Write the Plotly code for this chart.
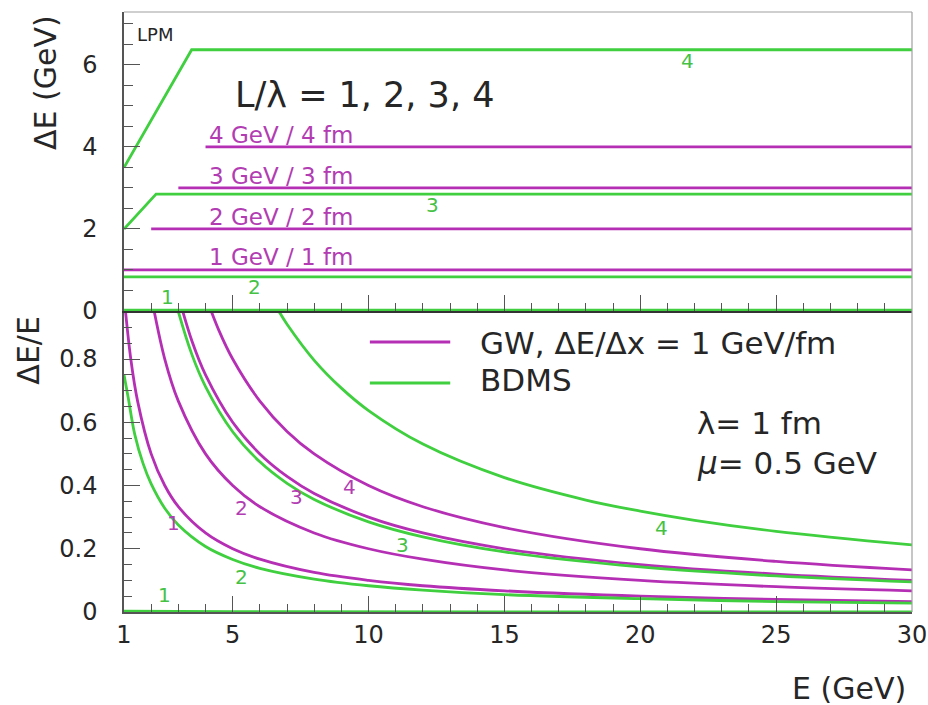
import plotly.graph_objects as go

# ---------------- data ----------------
E_MIN, E_MAX = 1, 30
x_tick_vals = [1, 5, 10, 15, 20, 25, 30]
top_y_ticks = [0, 2, 4, 6]
bot_y_ticks = [0, 0.2, 0.4, 0.6, 0.8]

# Top panel: Delta E (GeV) vs E
gw_labels = ["1 GeV / 1 fm", "2 GeV / 2 fm", "3 GeV / 3 fm", "4 GeV / 4 fm"]
gw1_top_E = [1, 30];   gw1_top_dE = [1, 1]
gw2_top_E = [2, 30];   gw2_top_dE = [2, 2]
gw3_top_E = [3, 30];   gw3_top_dE = [3, 3]
gw4_top_E = [4, 30];   gw4_top_dE = [4, 4]

bdms1_top_E = [1, 30];                       bdms1_top_dE = [0.02, 0.02]
bdms2_top_E = [1, 30];                       bdms2_top_dE = [0.83, 0.83]
bdms3_top_E = [1, 2.18, 30];                 bdms3_top_dE = [2.0, 2.85, 2.85]
bdms4_top_E = [1, 2.2, 3.49, 30]
bdms4_top_dE = [3.5, 4.9, 6.37, 6.37]

# Bottom panel: Delta E / E vs E
gw1_bot_E = [1, 1.25, 1.5, 2, 2.5, 3, 4, 5, 6, 8, 10, 12, 15, 20, 25, 30]
gw1_bot_r = [1.0, 0.8, 0.667, 0.5, 0.4, 0.333, 0.25, 0.2, 0.167, 0.125, 0.1, 0.083, 0.067, 0.05, 0.04, 0.033]
gw2_bot_E = [2, 2.5, 3, 4, 5, 6, 8, 10, 12, 15, 20, 25, 30]
gw2_bot_r = [1.0, 0.8, 0.667, 0.5, 0.4, 0.333, 0.25, 0.2, 0.167, 0.133, 0.1, 0.08, 0.067]
gw3_bot_E = [3, 3.5, 4, 5, 6, 7, 8, 10, 12, 15, 20, 25, 30]
gw3_bot_r = [1.0, 0.857, 0.75, 0.6, 0.5, 0.429, 0.375, 0.3, 0.25, 0.2, 0.15, 0.12, 0.1]
gw4_bot_E = [4, 4.5, 5, 6, 7, 8, 10, 12, 15, 20, 25, 30]
gw4_bot_r = [1.0, 0.889, 0.8, 0.667, 0.571, 0.5, 0.4, 0.333, 0.267, 0.2, 0.16, 0.133]

bdms1_bot_E = [1, 5, 30];  bdms1_bot_r = [0.003, 0.001, 0.0]
bdms2_bot_E = [1, 1.15, 1.4, 1.7, 2, 2.5, 3, 4, 5, 6, 8, 10, 12, 15, 20, 25, 30]
bdms2_bot_r = [0.75, 0.68, 0.56, 0.47, 0.405, 0.328, 0.275, 0.207, 0.166, 0.138, 0.104, 0.083, 0.069, 0.055, 0.042, 0.033, 0.028]
bdms3_bot_E = [2.9, 3, 3.5, 4, 5, 6, 7, 8, 10, 12, 15, 20, 25, 30]
bdms3_bot_r = [0.983, 0.95, 0.814, 0.713, 0.57, 0.475, 0.407, 0.356, 0.285, 0.2375, 0.19, 0.1425, 0.114, 0.095]
bdms4_bot_E = [6.5, 6.7, 7, 8, 9, 10, 12, 15, 18, 20, 22, 25, 30]
bdms4_bot_r = [0.98, 0.951, 0.91, 0.796, 0.708, 0.637, 0.531, 0.425, 0.354, 0.319, 0.29, 0.255, 0.212]

# ---------------- styling ----------------
MAG = "#b52fb5"
GRN = "#3fcf3f"
MAG_TXT = "#b23cb2"
GRN_TXT = "#45c245"
TXT = "#262626"
AX = "#555555"
FONT = "DejaVu Sans"
LW = 2.8

fig = go.Figure()

def add_line(x, y, color, xa, ya, spline=False):
    fig.add_trace(go.Scatter(
        x=x, y=y, mode="lines", xaxis=xa, yaxis=ya, showlegend=False,
        hoverinfo="skip",
        line=dict(color=color, width=LW, shape="spline" if spline else "linear",
                  smoothing=1.0)))

# top panel
for x, y in [(gw1_top_E, gw1_top_dE), (gw2_top_E, gw2_top_dE),
             (gw3_top_E, gw3_top_dE), (gw4_top_E, gw4_top_dE)]:
    add_line(x, y, MAG, "x2", "y2")
for x, y in [(bdms1_top_E, bdms1_top_dE), (bdms2_top_E, bdms2_top_dE),
             (bdms3_top_E, bdms3_top_dE), (bdms4_top_E, bdms4_top_dE)]:
    add_line(x, y, GRN, "x2", "y2")

# bottom panel
for x, y in [(gw1_bot_E, gw1_bot_r), (gw2_bot_E, gw2_bot_r),
             (gw3_bot_E, gw3_bot_r), (gw4_bot_E, gw4_bot_r)]:
    add_line(x, y, MAG, "x", "y", spline=True)
for x, y in [(bdms1_bot_E, bdms1_bot_r), (bdms2_bot_E, bdms2_bot_r),
             (bdms3_bot_E, bdms3_bot_r), (bdms4_bot_E, bdms4_bot_r)]:
    add_line(x, y, GRN, "x", "y", spline=True)

SPLIT = 0.5017

common_x = dict(range=[E_MIN, E_MAX], showgrid=False, zeroline=False,
                showline=True, linecolor=AX, linewidth=1.5, automargin=False,
                ticks="inside", ticklen=16, tickcolor=AX, tickwidth=1,
                tickmode="array", tickvals=x_tick_vals,
                minor=dict(tickmode="array", tickvals=list(range(1, 31)),
                           ticks="inside", ticklen=8, tickcolor=AX))

fig.update_layout(
    width=928, height=705,
    margin=dict(l=124, r=16, t=12, b=93, autoexpand=False),
    paper_bgcolor="white", plot_bgcolor="white",
    font=dict(family=FONT, color=TXT, size=24),
    xaxis=dict(**common_x, anchor="y", domain=[0, 1],
               tickfont=dict(size=24, family=FONT, color=TXT),
               ticklabelstandoff=0),
    yaxis=dict(domain=[0, SPLIT], range=[0, 0.952], showgrid=False,
               zeroline=False, showline=True, linecolor=AX, linewidth=1.5,
               automargin=False,
               ticks="inside", ticklen=16, tickcolor=AX,
               tickmode="array", tickvals=bot_y_ticks,
               ticktext=["0", "0.2", "0.4", "0.6", "0.8"],
               minor=dict(dtick=0.05, tick0=0, ticks="inside", ticklen=8,
                          tickcolor=AX),
               tickfont=dict(size=24, family=FONT, color=TXT),
               ticklabelstandoff=20),
    xaxis2=dict(**common_x, anchor="y2", domain=[0, 1], showticklabels=False),
    yaxis2=dict(domain=[SPLIT, 1], range=[0, 7.29], showgrid=False,
                zeroline=False, showline=True, linecolor=AX, linewidth=1.5,
                automargin=False,
                ticks="inside", ticklen=16, tickcolor=AX,
                tickmode="array", tickvals=top_y_ticks,
                minor=dict(dtick=0.5, tick0=0, ticks="inside", ticklen=9,
                           tickcolor=AX),
                tickfont=dict(size=24, family=FONT, color=TXT),
                ticklabelstandoff=20),
)
fig.update_xaxes(selector=dict(anchor="y2"), linecolor="#333333", linewidth=2.2)

# frame (top edge and right edge, light gray)
fig.add_shape(type="line", xref="paper", yref="paper", x0=0, x1=1, y0=1, y1=1,
              line=dict(color="#a0a0a0", width=1.2))
fig.add_shape(type="line", xref="paper", yref="paper", x0=1, x1=1, y0=0, y1=1,
              line=dict(color="#a0a0a0", width=1.2))

# legend samples
fig.add_shape(type="line", xref="paper", yref="paper", x0=0.312, x1=0.414,
              y0=0.45, y1=0.45, line=dict(color=MAG, width=LW))
fig.add_shape(type="line", xref="paper", yref="paper", x0=0.312, x1=0.414,
              y0=0.3817, y1=0.3817, line=dict(color=GRN, width=LW))

ann = []
def text(x, y, s, size, color=TXT, xanchor="left", yanchor="middle", angle=0,
         xref="paper", yref="paper"):
    ann.append(dict(x=x, y=y, xref=xref, yref=yref, text=s, showarrow=False,
                    xanchor=xanchor, yanchor=yanchor, textangle=angle,
                    font=dict(family=FONT, size=size, color=color)))

# axis titles
text(-0.1003, 0.8833, "ΔE (GeV)", 30, xanchor="center", angle=-90)
text(-0.121, 0.4367, "ΔE/E", 30, xanchor="center", angle=-90)
text(0.995, -0.1267, "E (GeV)", 30, xanchor="right")

# top panel text
text(0.014, 0.9617, "LPM", 18)
text(0.138, 0.8617, "L/λ = 1, 2, 3, 4", 35)
for lbl, yp in zip(gw_labels, [0.5917, 0.6583, 0.7267, 0.795]):
    text(0.1053, yp, lbl, 23, color=MAG_TXT)
# curve numbers, top panel
text(0.7157, 0.9183, "4", 20, color=GRN_TXT, xanchor="center")
text(0.3909, 0.6783, "3", 20, color=GRN_TXT, xanchor="center")
text(0.1662, 0.5417, "2", 20, color=GRN_TXT, xanchor="center")
text(0.0546, 0.525, "1", 20, color=GRN_TXT, xanchor="center")

# legend text
text(0.449, 0.4483, "GW, ΔE/Δx = 1 GeV/fm", 31)
text(0.449, 0.3867, "BDMS", 31)
text(0.7246, 0.315, "λ= 1 fm", 31)
text(0.7246, 0.248, "<i>μ</i>= 0.5 GeV", 31)

# curve numbers, bottom panel
text(0.0622, 0.1483, "1", 20, color=MAG_TXT, xanchor="center")
text(0.1497, 0.1733, "2", 20, color=MAG_TXT, xanchor="center")
text(0.2195, 0.1917, "3", 20, color=MAG_TXT, xanchor="center")
text(0.2868, 0.2083, "4", 20, color=MAG_TXT, xanchor="center")
text(0.052, 0.0283, "1", 20, color=GRN_TXT, xanchor="center")
text(0.1497, 0.0583, "2", 20, color=GRN_TXT, xanchor="center")
text(0.354, 0.1117, "3", 20, color=GRN_TXT, xanchor="center")
text(0.6827, 0.14, "4", 20, color=GRN_TXT, xanchor="center")

fig.update_layout(annotations=ann)
fig.write_html("out.html")
